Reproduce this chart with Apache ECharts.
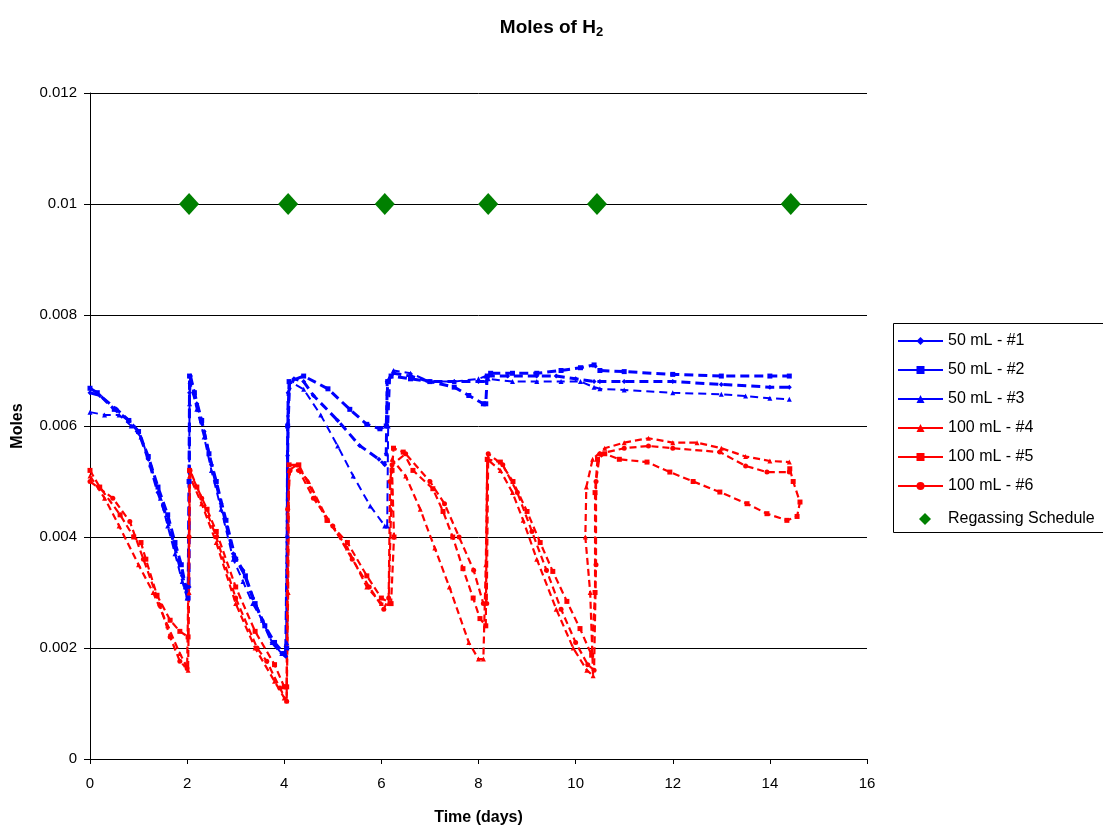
<!DOCTYPE html>
<html>
<head>
<meta charset="utf-8">
<title>Moles of H2</title>
<script src="https://cdn.jsdelivr.net/npm/echarts@6/dist/echarts.min.js"></script>
<style>
  html, body { margin: 0; padding: 0; background: #fff; }
  #chart { width: 1103px; height: 831px; }
</style>
</head>
<body>
<div id="chart"></div>
<script>
// Axis ticks
const xTickLabels = ['0', '2', '4', '6', '8', '10', '12', '14', '16'];
const yTickLabels = ['0', '0.002', '0.004', '0.006', '0.008', '0.01', '0.012'];

// Series names
const seriesNames = ['50 mL - #1', '50 mL - #2', '50 mL - #3', '100 mL - #4', '100 mL - #5', '100 mL - #6', 'Regassing Schedule'];

// [time (days), moles H2]
const ml50_1 = [
  [0, 0.0066], [0.2, 0.00655], [0.55, 0.0063], [0.8, 0.0061], [1.0, 0.0059], [1.2, 0.0054], [1.4, 0.0048],
  [1.6, 0.0043], [1.75, 0.0038], [1.9, 0.0033], [2.0, 0.0030], [2.04, 0.0031],
  [2.05, 0.0066], [2.07, 0.0069],
  [2.2, 0.0064], [2.35, 0.0059], [2.5, 0.0053], [2.7, 0.0046], [2.95, 0.0037], [3.15, 0.0034], [3.35, 0.0029],
  [3.55, 0.0025], [3.75, 0.0021], [3.95, 0.0019], [4.03, 0.00185],
  [4.06, 0.0040], [4.08, 0.0066], [4.2, 0.00685],
  [4.4, 0.0068], [4.6, 0.00655], [5.1, 0.0061], [5.55, 0.00565], [5.95, 0.0054], [6.07, 0.0053],
  [6.1, 0.0055], [6.12, 0.0068], [6.25, 0.00695],
  [6.6, 0.0069], [7.0, 0.0068], [7.5, 0.0068], [8.0, 0.0068], [8.15, 0.0068],
  [8.2, 0.0069], [8.6, 0.0069], [9.2, 0.0069], [9.6, 0.0069], [10.0, 0.00685], [10.38, 0.0068],
  [10.5, 0.0068], [11.0, 0.0068], [12.0, 0.0068], [13.0, 0.00675], [14.0, 0.0067], [14.4, 0.0067]
];
const ml50_2 = [
  [0, 0.00668], [0.15, 0.0066], [0.5, 0.0063], [0.8, 0.0061], [1.0, 0.0059], [1.2, 0.00545], [1.4, 0.0049],
  [1.6, 0.0044], [1.75, 0.0039], [1.88, 0.0035], [1.97, 0.0031], [2.02, 0.0029],
  [2.04, 0.0050], [2.05, 0.0069],
  [2.15, 0.0066], [2.3, 0.0061], [2.45, 0.0055], [2.6, 0.0050], [2.8, 0.0043], [3.0, 0.0036], [3.2, 0.0033],
  [3.4, 0.0028], [3.6, 0.0024], [3.8, 0.0021], [4.0, 0.0019], [4.05, 0.0020],
  [4.07, 0.0060], [4.1, 0.0068],
  [4.4, 0.0069], [4.9, 0.00667], [5.35, 0.0063], [5.7, 0.00603], [5.97, 0.00595], [6.1, 0.0060],
  [6.13, 0.0068], [6.2, 0.0069],
  [6.6, 0.00685], [7.0, 0.0068], [7.5, 0.0067], [7.8, 0.00655], [8.1, 0.0064], [8.15, 0.0064],
  [8.18, 0.0069], [8.25, 0.00695],
  [8.7, 0.00695], [9.2, 0.00695], [9.7, 0.0070], [10.1, 0.00705], [10.38, 0.0071],
  [10.5, 0.0070], [11.0, 0.00698], [12.0, 0.00693], [13.0, 0.0069], [14.0, 0.0069], [14.4, 0.0069]
];
const ml50_3 = [
  [0, 0.00625], [0.3, 0.0062], [0.6, 0.0062], [0.85, 0.0060], [1.05, 0.0058], [1.25, 0.0053], [1.45, 0.0047],
  [1.6, 0.0042], [1.75, 0.0037], [1.9, 0.0032], [2.0, 0.0029], [2.03, 0.0030],
  [2.05, 0.0064], [2.06, 0.0068],
  [2.2, 0.0063], [2.35, 0.0058], [2.5, 0.0052], [2.7, 0.0045], [2.95, 0.0036], [3.15, 0.0032], [3.35, 0.0028],
  [3.55, 0.0025], [3.75, 0.0021], [3.95, 0.0019], [4.05, 0.0021],
  [4.07, 0.0055], [4.12, 0.0068],
  [4.4, 0.00666], [4.75, 0.0062], [5.1, 0.00564], [5.42, 0.0051], [5.77, 0.00456], [6.07, 0.0042], [6.12, 0.0042],
  [6.14, 0.0060], [6.18, 0.0069], [6.25, 0.0070],
  [6.6, 0.00695], [7.0, 0.0068], [7.5, 0.0068], [8.0, 0.00685], [8.15, 0.0069],
  [8.2, 0.00685], [8.7, 0.0068], [9.2, 0.0068], [9.7, 0.0068], [10.1, 0.0068], [10.38, 0.0067],
  [10.5, 0.00667], [11.0, 0.00665], [12.0, 0.0066], [13.0, 0.00657], [13.5, 0.00654], [14.0, 0.0065], [14.4, 0.00648]
];
const ml100_4 = [
  [0, 0.0051], [0.3, 0.0047], [0.6, 0.0042], [1.0, 0.0035], [1.3, 0.0030], [1.6, 0.0024], [1.85, 0.0019],
  [1.97, 0.0017], [2.02, 0.0016],
  [2.04, 0.0030], [2.05, 0.0051],
  [2.3, 0.0046], [2.6, 0.0039], [3.0, 0.0028], [3.4, 0.0020], [3.8, 0.0014], [4.0, 0.0011], [4.05, 0.00105],
  [4.08, 0.0030], [4.1, 0.0052], [4.25, 0.0053],
  [4.5, 0.0050], [4.9, 0.0043], [5.3, 0.0038], [5.7, 0.0031], [6.0, 0.0028], [6.15, 0.0028],
  [6.2, 0.0045], [6.22, 0.0054],
  [6.5, 0.0051], [6.8, 0.0045], [7.1, 0.0038], [7.4, 0.0031], [7.8, 0.0021], [8.0, 0.0018], [8.1, 0.0018],
  [8.15, 0.0035], [8.18, 0.0054],
  [8.45, 0.0052], [8.7, 0.0048], [8.92, 0.0043], [9.2, 0.0036], [9.6, 0.0027], [9.95, 0.0020], [10.23, 0.0016], [10.36, 0.0015],
  [10.3, 0.0030], [10.2, 0.0040], [10.22, 0.0049], [10.35, 0.0054], [10.6, 0.0056],
  [11.0, 0.0057], [11.5, 0.00578], [12.0, 0.0057], [12.5, 0.0057], [13.0, 0.0056], [13.5, 0.00545], [14.0, 0.00537], [14.4, 0.00535]
];
const ml100_5 = [
  [0, 0.0052], [0.2, 0.0049], [0.62, 0.0044], [0.9, 0.0040], [1.05, 0.0039], [1.15, 0.0036], [1.38, 0.00295],
  [1.65, 0.0025], [1.85, 0.0023], [2.02, 0.0022],
  [2.05, 0.0052],
  [2.2, 0.0049], [2.41, 0.0045], [2.6, 0.0041], [3.0, 0.0031], [3.4, 0.0023], [3.8, 0.0017], [4.0, 0.0013], [4.05, 0.0013],
  [4.1, 0.0053],
  [4.3, 0.0053], [4.88, 0.0043], [5.3, 0.0039], [5.7, 0.0033], [6.0, 0.0029], [6.2, 0.0028],
  [6.26, 0.0040], [6.22, 0.0052], [6.25, 0.0056],
  [6.45, 0.00553], [6.65, 0.0052], [7.06, 0.00487], [7.27, 0.00446], [7.47, 0.0040], [7.68, 0.00343], [7.89, 0.0029],
  [8.03, 0.00253], [8.15, 0.0024],
  [8.18, 0.0054],
  [8.45, 0.00535], [8.71, 0.0050], [9.0, 0.00446], [9.27, 0.0039], [9.53, 0.00338], [9.82, 0.00284], [10.09, 0.00235], [10.33, 0.00187],
  [10.4, 0.0030], [10.4, 0.0048], [10.45, 0.0054], [10.6, 0.0055],
  [10.9, 0.0054], [11.47, 0.00535], [11.94, 0.00517], [12.42, 0.0050], [12.97, 0.00481], [13.53, 0.0046], [13.94, 0.00442],
  [14.35, 0.0043], [14.56, 0.00437], [14.62, 0.00463], [14.48, 0.0050], [14.41, 0.00523]
];
const ml100_6 = [
  [0, 0.0050], [0.47, 0.0047], [0.82, 0.00428], [1.1, 0.0036], [1.44, 0.00277], [1.65, 0.0022], [1.85, 0.00176], [2.0, 0.00163],
  [2.04, 0.0040], [2.06, 0.0052],
  [2.3, 0.0047], [2.6, 0.0040], [3.0, 0.0029], [3.44, 0.0020], [3.64, 0.00176], [3.91, 0.00128], [4.05, 0.00104],
  [4.07, 0.0045], [4.12, 0.0052],
  [4.3, 0.0052], [4.6, 0.0047], [5.0, 0.0042], [5.4, 0.0036], [5.75, 0.0031], [6.05, 0.0027], [6.15, 0.0029],
  [6.18, 0.0050], [6.22, 0.0053],
  [6.5, 0.0055], [7.0, 0.0050], [7.3, 0.0046], [7.6, 0.0040], [7.9, 0.0034], [8.1, 0.0028], [8.17, 0.0028],
  [8.2, 0.0055],
  [8.5, 0.0053], [8.8, 0.0048], [9.1, 0.0041], [9.4, 0.0034], [9.7, 0.0027], [10.0, 0.0021], [10.25, 0.0017], [10.38, 0.0016],
  [10.42, 0.0035], [10.42, 0.0050], [10.5, 0.0055],
  [11.0, 0.0056], [11.5, 0.00564], [12.0, 0.0056], [12.97, 0.00553], [13.5, 0.00528], [13.94, 0.00517], [14.4, 0.00517]
];
const regassDays = [2.04, 4.08, 6.07, 8.2, 10.44, 14.43];
const regassLevel = [0.01, 0.01, 0.01, 0.01, 0.01, 0.01];

const FONT = "'Liberation Sans', Arial, sans-serif";
const BLUE = '#0000ff';
const RED = '#ff0000';
const GREEN = '#008000';

function lineSeries(name, data, color, symbol, width, dash) {
  return {
    name: name,
    type: 'line',
    data: data,
    symbol: symbol,
    symbolSize: 5,
    showSymbol: true,
    itemStyle: { color: color, opacity: 1 },
    lineStyle: { color: color, width: width, type: dash },
    emphasis: { disabled: true },
    animation: false,
    z: 3
  };
}

const chart = echarts.init(document.getElementById('chart'), null, { renderer: 'canvas' });

const legendText = { fontFamily: FONT, fontSize: 16, color: '#000' };

chart.setOption({
  backgroundColor: '#ffffff',
  animation: false,
  textStyle: { fontFamily: FONT },
  title: {
    text: 'Moles of H{s|2}',
    left: 'center',
    top: 12,
    textStyle: {
      fontFamily: FONT,
      fontSize: 19,
      fontWeight: 'bold',
      color: '#000',
      rich: {
        s: { fontFamily: FONT, fontSize: 13, fontWeight: 'bold', color: '#000', padding: [9, 0, 0, 0] }
      }
    }
  },
  // legend frame
  graphic: [{
    type: 'rect',
    left: 893,
    top: 323,
    shape: { width: 220, height: 209 },
    style: { fill: '#fff', stroke: '#000', lineWidth: 1 },
    z: -1
  }],
  legend: [{
    orient: 'vertical',
    left: 897,
    top: 333,
    padding: 0,
    itemWidth: 45,
    itemHeight: 10,
    itemGap: 13,
    lineStyle: { type: 'solid' },
    textStyle: legendText,
    data: seriesNames.slice(0, 6)
  }, {
    orient: 'vertical',
    left: 919,
    top: 511,
    padding: 0,
    itemWidth: 12,
    itemHeight: 12,
    textStyle: Object.assign({ padding: [0, 0, 0, 12] }, legendText),
    data: [{ name: seriesNames[6], icon: 'diamond' }]
  }],
  grid: { left: 90, right: 236, top: 93, bottom: 70 },
  xAxis: {
    type: 'value',
    min: 0,
    max: 16,
    interval: 2,
    name: 'Time (days)',
    nameLocation: 'middle',
    nameGap: 51,
    nameTextStyle: { fontFamily: FONT, fontSize: 16, fontWeight: 'bold', color: '#000' },
    axisLine: { onZero: false, lineStyle: { color: '#000', width: 1 } },
    axisTick: { show: true, length: 5, lineStyle: { color: '#000' } },
    axisLabel: {
      margin: 17, fontFamily: FONT, fontSize: 15, color: '#000',
      formatter: function (v, i) { return xTickLabels[i]; }
    },
    splitLine: { show: false }
  },
  yAxis: {
    type: 'value',
    min: 0,
    max: 0.012,
    interval: 0.002,
    name: 'Moles',
    nameLocation: 'middle',
    nameGap: 64,
    nameRotate: 90,
    nameTextStyle: { fontFamily: FONT, fontSize: 16, fontWeight: 'bold', color: '#000' },
    axisLine: { show: true, lineStyle: { color: '#000', width: 1 } },
    axisTick: { show: true, length: 6, lineStyle: { color: '#000' } },
    axisLabel: {
      margin: 13, fontFamily: FONT, fontSize: 15, color: '#000',
      formatter: function (v, i) { return yTickLabels[i]; }
    },
    splitLine: { show: true, lineStyle: { color: '#000', width: 1 } }
  },
  series: [
    lineSeries(seriesNames[0], ml50_1, BLUE, 'diamond', 3, [9, 5]),
    lineSeries(seriesNames[1], ml50_2, BLUE, 'rect', 3, [9, 5]),
    lineSeries(seriesNames[2], ml50_3, BLUE, 'triangle', 2, [8, 5]),
    lineSeries(seriesNames[3], ml100_4, RED, 'triangle', 2.2, [7, 4]),
    lineSeries(seriesNames[4], ml100_5, RED, 'rect', 2.2, [7, 4]),
    lineSeries(seriesNames[5], ml100_6, RED, 'circle', 2.2, [7, 4]),
    {
      name: seriesNames[6],
      type: 'scatter',
      data: regassDays.map(function (d, i) { return [d, regassLevel[i]]; }),
      symbol: 'diamond',
      symbolSize: [20, 22],
      itemStyle: { color: GREEN, opacity: 1 },
      emphasis: { disabled: true },
      animation: false,
      z: 4
    }
  ]
});
</script>
</body>
</html>
